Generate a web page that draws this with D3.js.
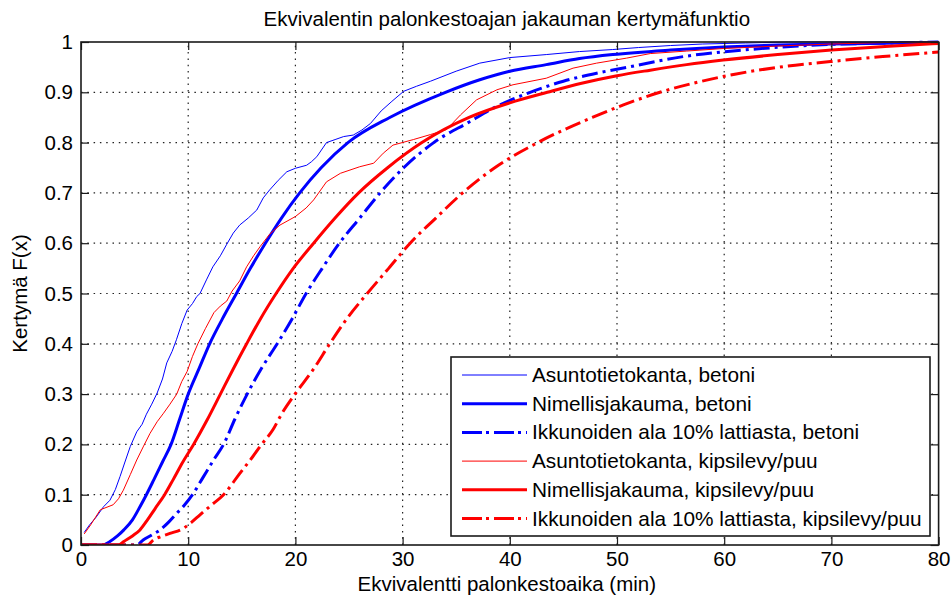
<!DOCTYPE html>
<html>
<head>
<meta charset="utf-8">
<script src="https://cdn.jsdelivr.net/npm/d3@7/dist/d3.min.js"></script>
<style>
  html, body { margin: 0; padding: 0; background: #fff; }
  svg { display: block; }
  text { font-family: "Liberation Sans", Arial, sans-serif; fill: #000; }
</style>
</head>
<body>
<svg id="chart" width="952" height="601"></svg>
<script>
// Axis ticks
const xTicks = [0, 10, 20, 30, 40, 50, 60, 70, 80];
const yTicks = [0, 0.1, 0.2, 0.3, 0.4, 0.5, 0.6, 0.7, 0.8, 0.9, 1];

// Cumulative distributions, points are [time (min), F(x)]
const asuntoBetoni = [[0.3,0.025],[0.8,0.04],[1.4,0.055],[2.1,0.076],[2.7,0.089],[3.2,0.11],[3.64,0.136],[4.1,0.165],[4.6,0.196],[5.2,0.225],[5.7,0.24],[6.1,0.26],[6.6,0.28],[7.1,0.302],[7.6,0.33],[8.0,0.362],[8.5,0.385],[8.9,0.408],[9.4,0.44],[9.9,0.467],[10.4,0.48],[10.8,0.494],[11.1,0.5],[11.7,0.527],[12.3,0.553],[13.0,0.575],[13.6,0.598],[14.2,0.62],[14.8,0.636],[15.6,0.65],[16.4,0.666],[17.0,0.69],[17.6,0.706],[18.4,0.725],[19.2,0.742],[20.0,0.749],[21.05,0.755],[21.5,0.762],[22.0,0.772],[22.9,0.8],[23.7,0.806],[24.5,0.812],[25.4,0.815],[26.2,0.825],[27.0,0.838],[28.0,0.863],[29.0,0.882],[30.1,0.902],[31.3,0.912],[32.6,0.922],[35.0,0.942],[37.2,0.958],[40.0,0.969],[43.4,0.975],[46.5,0.981],[49.6,0.985],[52,0.989],[55,0.993],[58,0.996],[62,0.998],[66,1],[80,1]];
const nimellisBetoni = [[0,0],[2,0],[2.7,0.007],[3.4,0.018],[4.0,0.03],[4.8,0.05],[5.5,0.076],[6.1,0.1],[6.8,0.13],[7.6,0.165],[8.4,0.2],[9.2,0.25],[10.0,0.3],[11.0,0.35],[12.0,0.4],[13.2,0.45],[14.5,0.5],[15.8,0.55],[17.2,0.6],[18.7,0.65],[20.4,0.7],[22.4,0.75],[24.9,0.8],[28.8,0.85],[34.0,0.9],[37.2,0.925],[40.0,0.942],[43.4,0.955],[46.5,0.967],[49.6,0.975],[55,0.984],[60,0.99],[65,0.994],[70,0.996],[80,0.999]];
const ikkunaBetoni = [[0,0],[5.2,0],[5.8,0.01],[6.6,0.02],[7.37,0.03],[8.2,0.046],[8.93,0.063],[9.6,0.078],[10.4,0.1],[11.4,0.135],[12.4,0.17],[13.3,0.2],[14.35,0.25],[15.5,0.3],[16.8,0.35],[18.3,0.4],[19.7,0.45],[21.0,0.5],[22.5,0.55],[24.1,0.6],[26.0,0.65],[27.9,0.7],[30.1,0.75],[32.9,0.8],[36.3,0.842],[38.5,0.869],[41.9,0.9],[45,0.922],[48.1,0.938],[51,0.95],[56.2,0.971],[61.8,0.984],[68.6,0.994],[75,0.998],[80,1]];
const asuntoPuu = [[0.3,0.022],[0.9,0.04],[1.8,0.07],[3.0,0.08],[3.5,0.092],[3.95,0.109],[4.6,0.14],[5.2,0.169],[5.8,0.195],[6.44,0.222],[7.1,0.245],[7.7,0.262],[8.3,0.28],[8.93,0.3],[9.4,0.325],[9.9,0.345],[10.4,0.375],[10.9,0.4],[11.6,0.43],[12.4,0.462],[13.0,0.475],[13.6,0.485],[14.1,0.505],[14.8,0.525],[15.45,0.553],[16.1,0.575],[16.7,0.593],[17.6,0.618],[18.56,0.636],[20,0.653],[21.0,0.67],[21.7,0.686],[22.9,0.722],[24.2,0.739],[26.0,0.752],[27.3,0.759],[28.2,0.779],[29.1,0.795],[31.0,0.806],[32.6,0.816],[34.1,0.826],[35.4,0.855],[36.9,0.885],[38.8,0.905],[40.3,0.915],[43.4,0.928],[45.9,0.948],[48.1,0.958],[50.9,0.968],[53.1,0.977],[56.5,0.982],[59.9,0.987],[65,0.992],[70,0.996],[75,0.999],[80,1]];
const nimellisPuu = [[0,0],[3.5,0],[4.0,0.007],[4.8,0.018],[5.5,0.03],[6.2,0.05],[6.9,0.072],[7.8,0.1],[8.6,0.13],[9.5,0.165],[10.5,0.2],[11.8,0.25],[13.0,0.3],[14.2,0.35],[15.45,0.4],[16.75,0.45],[18.2,0.5],[19.8,0.55],[21.7,0.6],[23.7,0.65],[25.9,0.7],[28.6,0.75],[31.8,0.8],[36.2,0.85],[40.0,0.879],[43.5,0.9],[46.7,0.918],[50,0.933],[53.1,0.944],[56.5,0.955],[59.9,0.964],[65,0.975],[70,0.984],[75,0.991],[80,0.997]];
const ikkunaPuu = [[0,0],[6.2,0],[6.75,0.01],[7.5,0.017],[8.3,0.023],[9.54,0.033],[10.3,0.045],[11.1,0.06],[12.2,0.08],[13.3,0.1],[14.8,0.142],[16.0,0.175],[16.85,0.2],[17.9,0.229],[18.7,0.26],[19.96,0.3],[21.7,0.35],[23.2,0.4],[24.8,0.45],[26.7,0.5],[28.7,0.55],[30.7,0.6],[33.1,0.65],[35.6,0.7],[38.8,0.753],[42.6,0.8],[47.7,0.85],[50.6,0.875],[54.0,0.9],[57.5,0.92],[61.0,0.936],[65.5,0.951],[69.9,0.961],[74.8,0.971],[80,0.98]];

const seriesNames = [
  "Asuntotietokanta, betoni",
  "Nimellisjakauma, betoni",
  "Ikkunoiden ala 10% lattiasta, betoni",
  "Asuntotietokanta, kipsilevy/puu",
  "Nimellisjakauma, kipsilevy/puu",
  "Ikkunoiden ala 10% lattiasta, kipsilevy/puu"
];
const seriesData = [asuntoBetoni, nimellisBetoni, ikkunaBetoni, asuntoPuu, nimellisPuu, ikkunaPuu];

const BLUE = "#0000ff", RED = "#ff0000";
const DASHDOT = "16,5,3,5";
const styles = [
  { color: BLUE, width: 1, dash: null,    smooth: false },
  { color: BLUE, width: 3, dash: null,    smooth: true  },
  { color: BLUE, width: 3, dash: DASHDOT, smooth: true  },
  { color: RED,  width: 1, dash: null,    smooth: false },
  { color: RED,  width: 3, dash: null,    smooth: true  },
  { color: RED,  width: 3, dash: DASHDOT, smooth: true  }
];

const svg = d3.select("#chart");
const plot = { left: 81, right: 938.6, top: 42, bottom: 545 };

const x = d3.scaleLinear().domain([0, 80]).range([plot.left, plot.right]);
const y = d3.scaleLinear().domain([0, 1]).range([plot.bottom, plot.top]);

svg.append("rect").attr("width", 952).attr("height", 601).attr("fill", "#fff");

svg.append("defs").append("clipPath").attr("id", "plotClip")
  .append("rect")
  .attr("x", plot.left).attr("y", plot.top - 2)
  .attr("width", plot.right - plot.left).attr("height", plot.bottom - plot.top + 2);

// Dotted grid
const grid = svg.append("g").attr("stroke", "#222").attr("stroke-width", 1.2)
  .attr("stroke-dasharray", "1.5,4.8");
grid.selectAll("line.gx").data(xTicks.slice(1, -1)).join("line")
  .attr("x1", d => x(d)).attr("x2", d => x(d))
  .attr("y1", plot.bottom).attr("y2", plot.top);
grid.selectAll("line.gy").data(yTicks.slice(1, -1)).join("line")
  .attr("y1", d => y(d)).attr("y2", d => y(d))
  .attr("x1", plot.left).attr("x2", plot.right);

// Curves
const lineSmooth = d3.line().x(d => x(d[0])).y(d => y(d[1])).curve(d3.curveMonotoneX);
const lineRaw = d3.line().x(d => x(d[0])).y(d => y(d[1]));
const curves = svg.append("g").attr("clip-path", "url(#plotClip)");
seriesData.forEach((data, i) => {
  const s = styles[i];
  curves.append("path")
    .attr("d", (s.smooth ? lineSmooth : lineRaw)(data))
    .attr("fill", "none")
    .attr("stroke", s.color)
    .attr("stroke-width", s.width)
    .attr("stroke-linejoin", "round")
    .attr("stroke-dasharray", s.dash);
});

// Axes with inward ticks on all four sides
const tickLen = 8;
const FS = 20.5;
const axBottom = d3.axisBottom(x).tickValues(xTicks).tickSize(-tickLen).tickPadding(6.5).tickFormat(d3.format("~g"));
const axTop = d3.axisTop(x).tickValues(xTicks).tickSize(-tickLen).tickFormat("");
const axLeft = d3.axisLeft(y).tickValues(yTicks).tickSize(-tickLen).tickPadding(8).tickFormat(d3.format("~g"));
const axRight = d3.axisRight(y).tickValues(yTicks).tickSize(-tickLen).tickFormat("");

function styleAxis(g) {
  g.select(".domain").remove();
  g.selectAll(".tick line").attr("stroke", "#1a1a1a").attr("stroke-width", 1.2);
  g.selectAll(".tick text").attr("font-size", FS).attr("fill", "#000")
    .style("font-family", "'Liberation Sans', Arial, sans-serif");
}
svg.append("g").attr("transform", `translate(0,${plot.bottom})`).call(axBottom).call(styleAxis);
svg.append("g").attr("transform", `translate(0,${plot.top})`).call(axTop).call(styleAxis);
svg.append("g").attr("transform", `translate(${plot.left},0)`).call(axLeft).call(styleAxis);
svg.append("g").attr("transform", `translate(${plot.right},0)`).call(axRight).call(styleAxis);

// Axes box
svg.append("rect")
  .attr("x", plot.left).attr("y", plot.top)
  .attr("width", plot.right - plot.left).attr("height", plot.bottom - plot.top)
  .attr("fill", "none").attr("stroke", "#1a1a1a").attr("stroke-width", 1.6);

// Titles
const cx = (plot.left + plot.right) / 2;
svg.append("text").attr("x", cx - 3).attr("y", 26).attr("text-anchor", "middle")
  .attr("font-size", FS).text("Ekvivalentin palonkestoajan jakauman kertymäfunktio");
svg.append("text").attr("x", cx - 3).attr("y", 591).attr("text-anchor", "middle")
  .attr("font-size", FS).text("Ekvivalentti palonkestoaika (min)");
svg.append("text")
  .attr("transform", `translate(27,${(plot.top + plot.bottom) / 2}) rotate(-90)`)
  .attr("text-anchor", "middle").attr("font-size", FS).text("Kertymä F(x)");

// Legend
const lg = { x: 451, y: 357, w: 479, h: 179, row0: 375, step: 28.7 };
const legend = svg.append("g");
legend.append("rect").attr("x", lg.x).attr("y", lg.y).attr("width", lg.w).attr("height", lg.h)
  .attr("fill", "#fff").attr("stroke", "#1a1a1a").attr("stroke-width", 1.6);
seriesNames.forEach((name, i) => {
  const s = styles[i];
  const cy = lg.row0 + i * lg.step;
  legend.append("line").attr("x1", 462).attr("x2", 527).attr("y1", cy).attr("y2", cy)
    .attr("stroke", s.color).attr("stroke-width", s.width)
    .attr("stroke-dasharray", s.dash ? "20,4,3,5" : null);
  legend.append("text").attr("x", 532).attr("y", cy + 7).attr("font-size", 20.8).text(name);
});
</script>
</body>
</html>
